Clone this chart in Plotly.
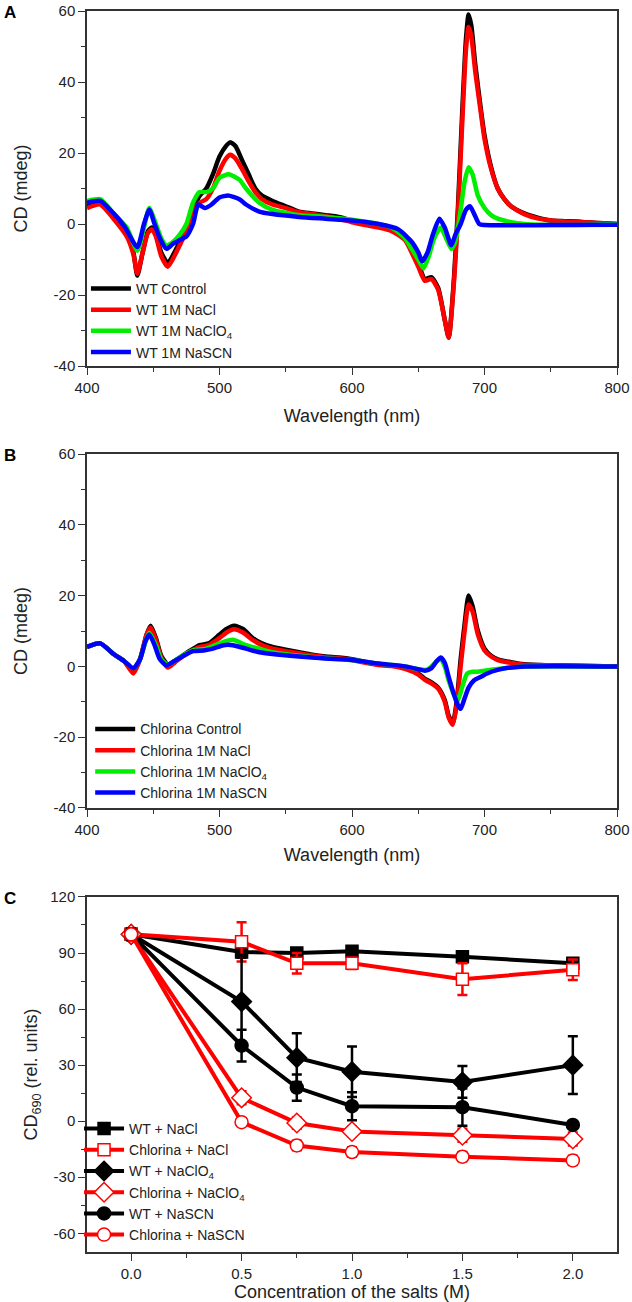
import plotly.graph_objects as go

# ---------------- Panel A: WT spectra ----------------
wl_a_ctrl = [400,410,420,430,435,438,442,446,449,452,456,461,466,470,475,480,485,490,495,500,505,508,512,517,522,527,532,540,550,560,570,580,590,600,610,620,630,640,645,650,655,660,665,670,673,677,680,683,686,688,690,693,697,700,705,710,715,720,730,740,750,760,770,780,790,800]
cd_a_ctrl = [5,6,2,-3,-8,-14.5,-8,-2,-1,-3,-8,-11,-8,-5,-1,4,8,10,14,19,22,23,22,18,14,10,8,6.5,5,3.5,3,2.5,2,1,0,-0.5,-1.5,-4,-7,-11,-15.5,-15,-18,-27,-32,-15,5,30,52,59,56,45,33,25,16,10,7,5,3,1.8,1,0.8,0.7,0.4,0.2,0]

wl_a_nacl = [400,410,420,430,435,438,442,446,449,452,456,461,466,470,475,480,485,490,495,500,505,508,512,517,522,527,532,540,550,560,570,580,590,600,610,620,630,640,645,650,655,660,665,670,673,677,680,683,686,688,690,693,697,700,705,710,715,720,730,740,750,760,770,780,790,800]
cd_a_nacl = [4.5,5.5,1.5,-3.5,-8.5,-14,-8,-2.5,-1.5,-3.5,-9,-12,-9,-6,-2,3,6,7,10,15,18.5,19.5,18.5,15.5,12,9,7,5.5,4.5,3.3,2.8,2.2,1.5,0.5,-0.3,-1,-2,-4.5,-8,-12,-16,-15.5,-18.5,-27,-32,-16,3,27,49,55.5,53,43,32,24,15.5,10,7,5,2.8,1.6,1,0.7,0.6,0.4,0.2,0]

wl_a_naclo4 = [400,410,420,430,438,443,447,452,456,460,465,470,475,480,485,490,495,500,507,515,520,530,540,560,580,600,620,630,640,645,650,654,658,662,667,671,675,678,682,685,688,691,695,700,705,710,720,730,760,800]
cd_a_naclo4 = [6.5,7,3,-1,-7.5,-1,4.5,0,-4,-6,-5,-3,0,6,9,9,10,13,14,12.5,10,6,4,2.5,2,1.2,0,-1,-4,-7,-10,-12.5,-9,-4,-1,-4,-7,-5,4,12,16,14,8,4.5,2.5,1.5,0.5,0,-0.3,0]

wl_a_nascn = [400,410,420,428,438,443,447,451,455,460,465,470,475,480,484,489,494,500,507,515,520,530,540,560,580,600,620,635,645,650,653,657,661,666,670,675,678,682,686,689,692,696,700,750,800]
cd_a_nascn = [6,6.5,3,-0.5,-6.5,0,4,0,-4,-7,-5.5,-4.5,-3.5,0,5.5,4.5,5.5,7.5,8,7,5.5,3.5,2.8,2,1.5,1,0,-1.5,-5,-8,-10.5,-8,-3,1.5,-1,-6,-3,0,4,5,3,0,-0.3,-0.3,-0.2]

# ---------------- Panel B: Chlorina spectra ----------------
wl_b_ctrl = [400,410,420,428,435,440,445,448,452,456,461,466,472,478,485,492,500,505,511,518,525,532,540,550,560,570,580,590,600,610,620,630,640,650,655,660,665,670,673,676,679,682,685,688,691,695,700,705,710,720,730,750,800]
cd_b_ctrl = [5.5,6.5,3.5,1.5,-1.5,2,9,11.5,8,3,0.5,1.5,3,4.5,6,6.5,9,10.5,11.5,10.5,8,6.5,5.5,4.7,4,3.3,2.8,2.5,2,1.2,0.5,0.3,-0.5,-2,-3.5,-4.5,-6,-9.5,-14,-16,-10,2,12,20,17,10,5,3,2,1.2,0.6,0.3,0]

wl_b_nacl = [400,410,420,428,435,440,445,448,452,456,461,466,472,478,485,492,500,505,511,518,525,532,540,550,560,570,580,590,600,610,620,630,640,650,655,660,665,670,673,676,679,682,685,688,691,695,700,705,710,720,730,750,800]
cd_b_nacl = [5.5,6.5,3.5,1.5,-2,2,9,11,7.5,2.5,-0.3,1,2.8,4.2,5.5,6,8,9.5,10.5,9.5,7.5,6,5,4.3,3.7,3.1,2.6,2.3,1.8,1,0.4,0.1,-0.7,-2.3,-3.8,-4.8,-6.3,-10,-14.5,-16.5,-11,0,10,17.5,15.5,9,4.5,2.8,1.8,1,0.5,0.3,0]

wl_b_naclo4 = [400,410,420,428,435,440,445,447,452,456,461,466,472,480,490,500,510,520,530,540,560,580,600,620,640,650,656,660,664,667,670,673,677,680,683,687,691,695,700,710,720,730,800]
cd_b_naclo4 = [5.5,6.5,3.5,1.5,-0.5,2,8,9.5,6,2,0.5,1.5,3,4.5,5,6.5,7.5,6,5,4,3,2.3,1.8,0.8,0,-0.8,-1,0,1.5,2,0,-4,-8,-9.5,-6,-2,-1.5,-1.5,-1.2,-0.7,-0.3,0,0]

wl_b_nascn = [400,410,420,428,435,440,444,447,451,455,460,466,472,480,488,495,503,510,520,530,540,560,580,600,620,640,650,655,660,664,667,670,673,677,680,682,685,688,692,697,702,710,720,730,800]
cd_b_nascn = [5.5,6.5,3.5,1.5,-0.5,2,7,9,6,2,0.3,1.5,2.8,4.3,4.5,5,6,6,5,4,3.5,2.8,2.2,1.8,0.8,0,-0.8,-1.2,-0.5,1.5,2.5,1,-3,-8,-11,-12,-9,-6,-4,-3,-2,-1,-0.3,0,0]

# ---------------- Panel C: CD690 vs salt ----------------
conc = [0, 0.5, 0.75, 1.0, 1.5, 2.0]
wt_nacl = [100, 90.5, 90, 91, 88, 84.5]
wt_nacl_err = [3, 3, 2.5, 2.5, 2.5, 2]
chl_nacl = [100, 96, 84.5, 84.5, 76, 81]
chl_nacl_err = [3, 10.5, 5.5, 3, 8.5, 5.5]
wt_naclo4 = [100, 64, 34, 26.5, 21, 30]
wt_naclo4_err = [3, 25, 13, 13.5, 8.5, 15.5]
chl_naclo4 = [100, 12.5, -1, -5.5, -7.5, -9.5]
chl_naclo4_err = [2, 3.5, 3, 2.5, 3.5, 3.5]
wt_nascn = [100, 40.5, 18, 8, 7.5, -2]
wt_nascn_err = [3, 8.5, 7, 7.5, 10, 2]
chl_nascn = [100, -0.5, -13, -16.5, -19, -21]
chl_nascn_err = [2, 2, 2.5, 2.5, 2.5, 2.5]

# tick labels (hyphen-minus as in the reference)
cd_tickvals = [-40, -20, 0, 20, 40, 60]
cd_ticktext = ["-40", "-20", "0", "20", "40", "60"]
rel_tickvals = [-60, -30, 0, 30, 60, 90, 120]
rel_ticktext = ["-60", "-30", "0", "30", "60", "90", "120"]
conc_tickvals = [0, 0.5, 1.0, 1.5, 2.0]
conc_ticktext = ["0.0", "0.5", "1.0", "1.5", "2.0"]
wl_tickvals = [400, 500, 600, 700, 800]
wl_ticktext = ["400", "500", "600", "700", "800"]

FONT = "Liberation Sans, Arial, sans-serif"
BLACK, RED, GREEN, BLUE = "#000000", "#ff0000", "#00ee00", "#0000ff"

fig = go.Figure()

def spec(x, y, name, color, xa, ya, leg):
    fig.add_trace(go.Scatter(x=x, y=y, name=name, mode="lines",
                             line=dict(color=color, width=4.5, shape="spline", smoothing=0.6),
                             xaxis=xa, yaxis=ya, legend=leg))

spec(wl_a_ctrl, cd_a_ctrl, "WT Control", BLACK, "x", "y", "legend")
spec(wl_a_nacl, cd_a_nacl, "WT 1M NaCl", RED, "x", "y", "legend")
spec(wl_a_naclo4, cd_a_naclo4, "WT 1M NaClO<sub>4</sub>", GREEN, "x", "y", "legend")
spec(wl_a_nascn, cd_a_nascn, "WT 1M NaSCN", BLUE, "x", "y", "legend")

spec(wl_b_ctrl, cd_b_ctrl, "Chlorina Control", BLACK, "x2", "y2", "legend2")
spec(wl_b_nacl, cd_b_nacl, "Chlorina 1M NaCl", RED, "x2", "y2", "legend2")
spec(wl_b_naclo4, cd_b_naclo4, "Chlorina 1M NaClO<sub>4</sub>", GREEN, "x2", "y2", "legend2")
spec(wl_b_nascn, cd_b_nascn, "Chlorina 1M NaSCN", BLUE, "x2", "y2", "legend2")

def pts(y, err, name, color, symbol, size, open_marker):
    fig.add_trace(go.Scatter(
        x=conc, y=y, name=name, mode="lines+markers",
        line=dict(color=color, width=4),
        marker=dict(symbol=symbol, size=size,
                    color="white" if open_marker else color,
                    line=dict(color=color, width=1.5)),
        error_y=dict(type="data", array=err, visible=True, color=color, thickness=2.5, width=5),
        xaxis="x3", yaxis="y3", legend="legend3"))

pts(wt_nacl, wt_nacl_err, "WT + NaCl", BLACK, "square", 12, False)
pts(chl_nacl, chl_nacl_err, "Chlorina + NaCl", RED, "square", 12, True)
pts(wt_naclo4, wt_naclo4_err, "WT + NaClO<sub>4</sub>", BLACK, "diamond", 15, False)
pts(chl_naclo4, chl_naclo4_err, "Chlorina + NaClO<sub>4</sub>", RED, "diamond", 15, True)
pts(wt_nascn, wt_nascn_err, "WT + NaSCN", BLACK, "circle", 13, False)
pts(chl_nascn, chl_nascn_err, "Chlorina + NaSCN", RED, "circle", 13, True)

axcommon = dict(showline=True, linecolor="#333333", linewidth=1.5, mirror=True,
                ticks="outside", ticklen=7, tickwidth=1.2, tickcolor="#333333",
                showgrid=False, zeroline=False, automargin=False, tickmode="array",
                tickfont=dict(family=FONT, size=15, color="#222222"))

def minor(d, t0):
    return dict(ticks="outside", ticklen=4, tickmode="linear", dtick=d, tick0=t0,
                tickcolor="#333333", showgrid=False)

def xax(anchor, rng, tv, tt, mdt, title, standoff):
    return dict(**axcommon, range=rng, tickvals=tv, ticktext=tt, anchor=anchor,
                minor=minor(mdt, tv[0]),
                title=dict(text=title, font=dict(family=FONT, size=18, color="#222222"), standoff=standoff))

def yax(domain, rng, tv, tt, mdt, title, anchor, standoff):
    return dict(**axcommon, range=rng, tickvals=tv, ticktext=tt, domain=domain, anchor=anchor,
                minor=minor(mdt, tv[0]),
                title=dict(text=title, font=dict(family=FONT, size=18, color="#222222"), standoff=standoff))

legcommon = dict(bgcolor="rgba(0,0,0,0)", borderwidth=0, font=dict(family=FONT, size=14, color="#222222"),
                 xanchor="left", yanchor="top", itemwidth=40, tracegroupgap=0)

fig.update_layout(
    template="none",
    width=632, height=1302,
    margin=dict(l=87, r=15, t=11, b=50, autoexpand=False),
    paper_bgcolor="white", plot_bgcolor="white",
    showlegend=True,
    xaxis=xax("y", [400, 800], wl_tickvals, wl_ticktext, 50, "Wavelength (nm)", 15),
    yaxis=yax([0.7139, 1.0], [-40, 60], cd_tickvals, cd_ticktext, 10, "CD (mdeg)", "x", 21),
    xaxis2=xax("y2", [400, 800], wl_tickvals, wl_ticktext, 50, "Wavelength (nm)", 12),
    yaxis2=yax([0.3578, 0.6430], [-40, 60], cd_tickvals, cd_ticktext, 10, "CD (mdeg)", "x2", 21),
    xaxis3=xax("y3", [-0.2, 2.2], conc_tickvals, conc_ticktext, 0.25, "Concentration of the salts (M)", 6),
    yaxis3=yax([0.0, 0.2861], [-70, 120], rel_tickvals, rel_ticktext, 15, "CD<sub>690</sub> (rel. units)", "x3", 8),
    legend=dict(**legcommon, x=-0.002, y=0.789),
    legend2=dict(**legcommon, x=0.006, y=0.434),
    legend3=dict(**legcommon, x=-0.015, y=0.112),
)

for txt, ypx in [("A", 12), ("B", 455), ("C", 898)]:
    fig.add_annotation(text="<b>%s</b>" % txt, xref="paper", yref="paper",
                       x=(2 - 87) / 530, y=(1252 - ypx) / 1241, xanchor="left", yanchor="middle",
                       showarrow=False, font=dict(family=FONT, size=17, color="#000000"))

# remove the browser's default 8px body margin so the figure sits at the page origin
fig.write_html("out.html", config={"displayModeBar": False},
               post_script="document.body.style.margin='0px';")
